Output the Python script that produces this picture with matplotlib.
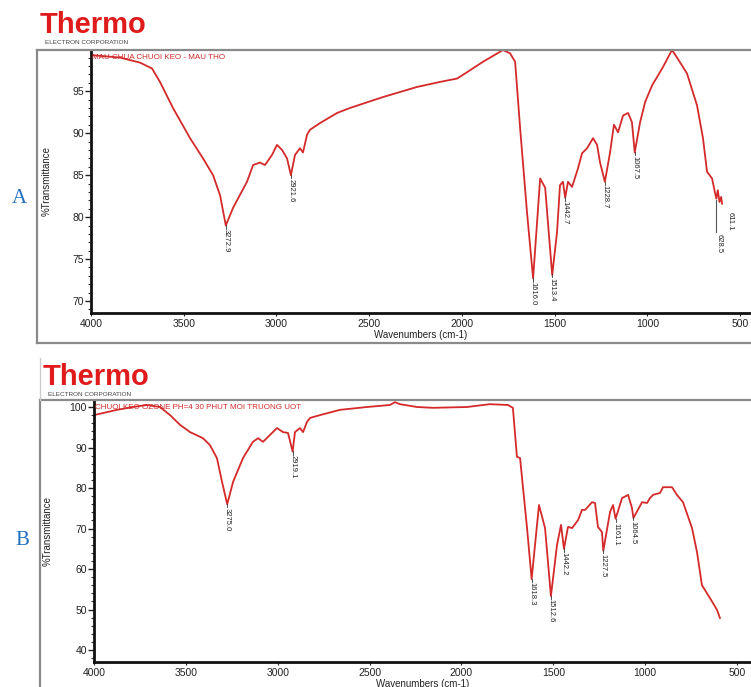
import numpy as np
import matplotlib
matplotlib.use("Agg")
import matplotlib.pyplot as plt
from matplotlib.lines import Line2D
from matplotlib.ticker import MultipleLocator

plt.rcParams['font.family'] = ['Liberation Sans', 'DejaVu Sans']

# ---------------- data ----------------
wnA = [4000, 3844, 3736, 3671, 3628, 3558, 3466, 3396, 3342, 3304, 3273, 3234, 3159, 3126,
       3089, 3062, 3024, 2997, 2970, 2943, 2922, 2900, 2873, 2857, 2835, 2819, 2765, 2673,
       2603, 2425, 2242, 2118, 2026, 1983, 1886, 1778, 1740, 1713, 1686, 1649, 1616, 1578,
       1551, 1513, 1487, 1471, 1455, 1443, 1428, 1406, 1374, 1352, 1325, 1293, 1271, 1255,
       1229, 1201, 1180, 1158, 1131, 1104, 1083, 1068, 1039, 1012, 974, 947, 915, 867, 840,
       786, 732, 700, 678, 651, 635, 628, 620, 611, 602, 597]
tA = [99.3, 99.0, 98.4, 97.7, 96.1, 93.0, 89.4, 87.0, 85.0, 82.6, 79.0, 81.1, 84.2, 86.2,
      86.5, 86.2, 87.4, 88.6, 88.0, 87.0, 85.0, 87.4, 88.2, 87.7, 89.8, 90.4, 91.2, 92.4,
      93.0, 94.3, 95.5, 96.1, 96.5, 97.1, 98.5, 99.9, 99.5, 98.5, 90.6, 80.6, 72.7, 84.6,
      83.5, 73.1, 78.2, 83.8, 84.2, 82.3, 84.2, 83.6, 85.8, 87.6, 88.2, 89.4, 88.6, 86.5,
      84.2, 87.7, 91.0, 90.1, 92.1, 92.4, 91.3, 87.7, 91.3, 93.7, 95.7, 96.7, 97.9, 99.9, 99.0,
      97.1, 93.3, 89.4, 85.4, 84.6, 82.9, 82.2, 83.2, 81.8, 82.4, 81.6]

wnB = [4000, 3875, 3788, 3712, 3641, 3586, 3532, 3477, 3407, 3369, 3331, 3303, 3275, 3243,
       3189, 3135, 3107, 3080, 3031, 3004, 2971, 2944, 2919, 2906, 2879, 2862, 2841, 2824,
       2770, 2661, 2514, 2389, 2362, 2335, 2242, 2155, 1970, 1845, 1747, 1720, 1698, 1681,
       1643, 1618, 1578, 1545, 1513, 1480, 1458, 1442, 1420, 1398, 1365, 1344, 1327, 1289,
       1273, 1257, 1235, 1228, 1191, 1175, 1161, 1126, 1093, 1072, 1064, 1017, 990, 974, 957,
       919, 903, 854, 827, 794, 745, 718, 691, 658, 631, 609, 593]
tB = [98.0, 99.3, 100.0, 100.5, 100.0, 98.0, 95.6, 93.8, 92.3, 90.6, 87.4, 81.5, 76.0, 81.5,
      87.4, 91.4, 92.3, 91.4, 93.6, 94.8, 93.8, 93.6, 89.0, 93.8, 94.8, 93.8, 96.3, 97.3,
      98.0, 99.3, 100.0, 100.5, 101.2, 100.7, 100.0, 99.8, 100.0, 100.7, 100.5, 99.8, 87.7, 87.4,
      70.1, 57.5, 75.8, 70.1, 53.3, 65.9, 70.9, 65.0, 70.4, 70.1, 72.1, 74.6, 74.6, 76.5,
      76.3, 70.4, 69.1, 64.5, 74.1, 75.8, 72.4, 77.5, 78.3, 75.1, 72.6, 76.5, 76.3, 77.5, 78.3,
      78.8, 80.2, 80.2, 78.3, 76.5, 70.1, 64.2, 56.0, 53.6, 51.6, 49.9, 47.9]

peaksA = [3272.9, 2921.6, 1616.0, 1513.4, 1442.7, 1228.7, 1067.5]
peaksB = [3275.0, 2919.1, 1618.3, 1512.6, 1442.2, 1227.5, 1161.1, 1064.5]
pairA = [628.5, 611.1]

titleA = "MAU CHUA CHUOI KEO - MAU THO"
titleB = "CHUOI KEO OZONE PH=4 30 PHUT MOI TRUONG UOT"
yticksA = [70, 75, 80, 85, 90, 95]
yticksB = [40, 50, 60, 70, 80, 90, 100]
xticks = [4000, 3500, 3000, 2500, 2000, 1500, 1000, 500]

# ---------------- layout ----------------
W, H = 751, 687
fig = plt.figure(figsize=(W / 100, H / 100), dpi=100)
fig.patch.set_facecolor('white')

RED = '#d42a2a'
GREY = '#8a8a8a'


def fx(px):
    return px / W


def fy(py):
    return 1 - py / H


def frame_line(x0, y0, x1, y1, color=GREY, lw=1.6):
    fig.add_artist(Line2D([fx(x0), fx(x1)], [fy(y0), fy(y1)], color=color, lw=lw,
                          transform=fig.transFigure))


def make_panel(left, top, bottom, xlim, ylim, wn, t, yticks, yminor, title, peaks, lpad):
    ax = fig.add_axes([fx(left), fy(bottom), fx(W - left), (bottom - top) / H])
    ax.plot(wn, t, color=RED, lw=1.3)
    ax.set_xlim(*xlim)
    ax.set_ylim(*ylim)
    ax.set_xticks(xticks)
    ax.set_yticks(yticks)
    ax.yaxis.set_minor_locator(MultipleLocator(yminor))
    for s in ['top', 'right']:
        ax.spines[s].set_visible(False)
    for s in ['left', 'bottom']:
        ax.spines[s].set_linewidth(2.0)
        ax.spines[s].set_color('#111111')
    ax.tick_params(axis='y', which='major', length=4, width=1, labelsize=7.5, pad=1,
                   colors='#222222')
    ax.tick_params(axis='y', which='minor', length=2.5, width=0.8, colors='#333333')
    ax.tick_params(axis='x', which='major', length=2, width=0.8, labelsize=7.5, pad=2,
                   colors='#222222')
    ax.set_ylabel('%Transmittance', fontsize=7, labelpad=lpad, color='#222222')
    ax.set_xlabel('Wavenumbers (cm-1)', fontsize=7, labelpad=1, color='#222222')
    ax.text(0.002, 0.985, title, transform=ax.transAxes, fontsize=5.8, color=RED,
            va='top', ha='left')
    wn_r = np.array(wn)[::-1]
    t_r = np.array(t)[::-1]
    yr = ylim[1] - ylim[0]
    for p in peaks:
        tp = np.interp(p, wn_r, t_r)
        ax.plot([p, p], [tp, tp - 0.012 * yr], color='#333333', lw=0.6)
        ax.text(p, tp - 0.015 * yr, f'{p:.1f}', rotation=-90, fontsize=5.5, va='top',
                ha='center', color='#222222')
    return ax


# Panel A
axA = make_panel(91, 50, 313, (4000, 441), (68.58, 99.9), wnA, tA, yticksA, 1,
                 titleA, peaksA, 15)
wr = np.array(wnA)[::-1]
trr = np.array(tA)[::-1]
tp = np.interp(pairA[0], wr, trr)
axA.plot([pairA[0], pairA[0]], [tp - 0.2, 78.2], color='#555555', lw=0.8)
axA.text(pairA[0] - 15, 78.0, f'{pairA[0]:.1f}', rotation=-90, fontsize=5.5,
         va='top', ha='center', color='#222222')
axA.text(pairA[1] - 60, 80.6, f'{pairA[1]:.1f}', rotation=-90, fontsize=5.5,
         va='top', ha='center', color='#222222')

# Panel B
axB = make_panel(94, 400, 662, (4000, 424), (37.04, 101.73), wnB, tB, yticksB, 2,
                 titleB, peaksB, 12)

# outer frames
frame_line(37, 50, W, 50)
frame_line(37, 50, 37, 343)
frame_line(37, 343, W, 343)
frame_line(40, 400, W, 400)
frame_line(40, 400, 40, H)
frame_line(40, 358, 40, 400, color='#cccccc', lw=1.0)

# logos
for (lx, ly) in [(40, 33), (43, 385)]:
    fig.text(fx(lx), fy(ly), 'Thermo', fontsize=21, fontweight='bold', color='#e01b1b',
             ha='left', va='baseline')
    fig.text(fx(lx + 5), fy(ly + 11), 'ELECTRON CORPORATION', fontsize=4.6,
             color='#444444', ha='left', va='baseline')

# panel letters
fig.text(fx(12), fy(203), 'A', fontsize=15, color='#1f6fbf',
         family=['Liberation Serif', 'DejaVu Serif'], ha='left', va='baseline')
fig.text(fx(15), fy(545), 'B', fontsize=15, color='#1f6fbf',
         family=['Liberation Serif', 'DejaVu Serif'], ha='left', va='baseline')

fig.savefig('out.png', dpi=100)
